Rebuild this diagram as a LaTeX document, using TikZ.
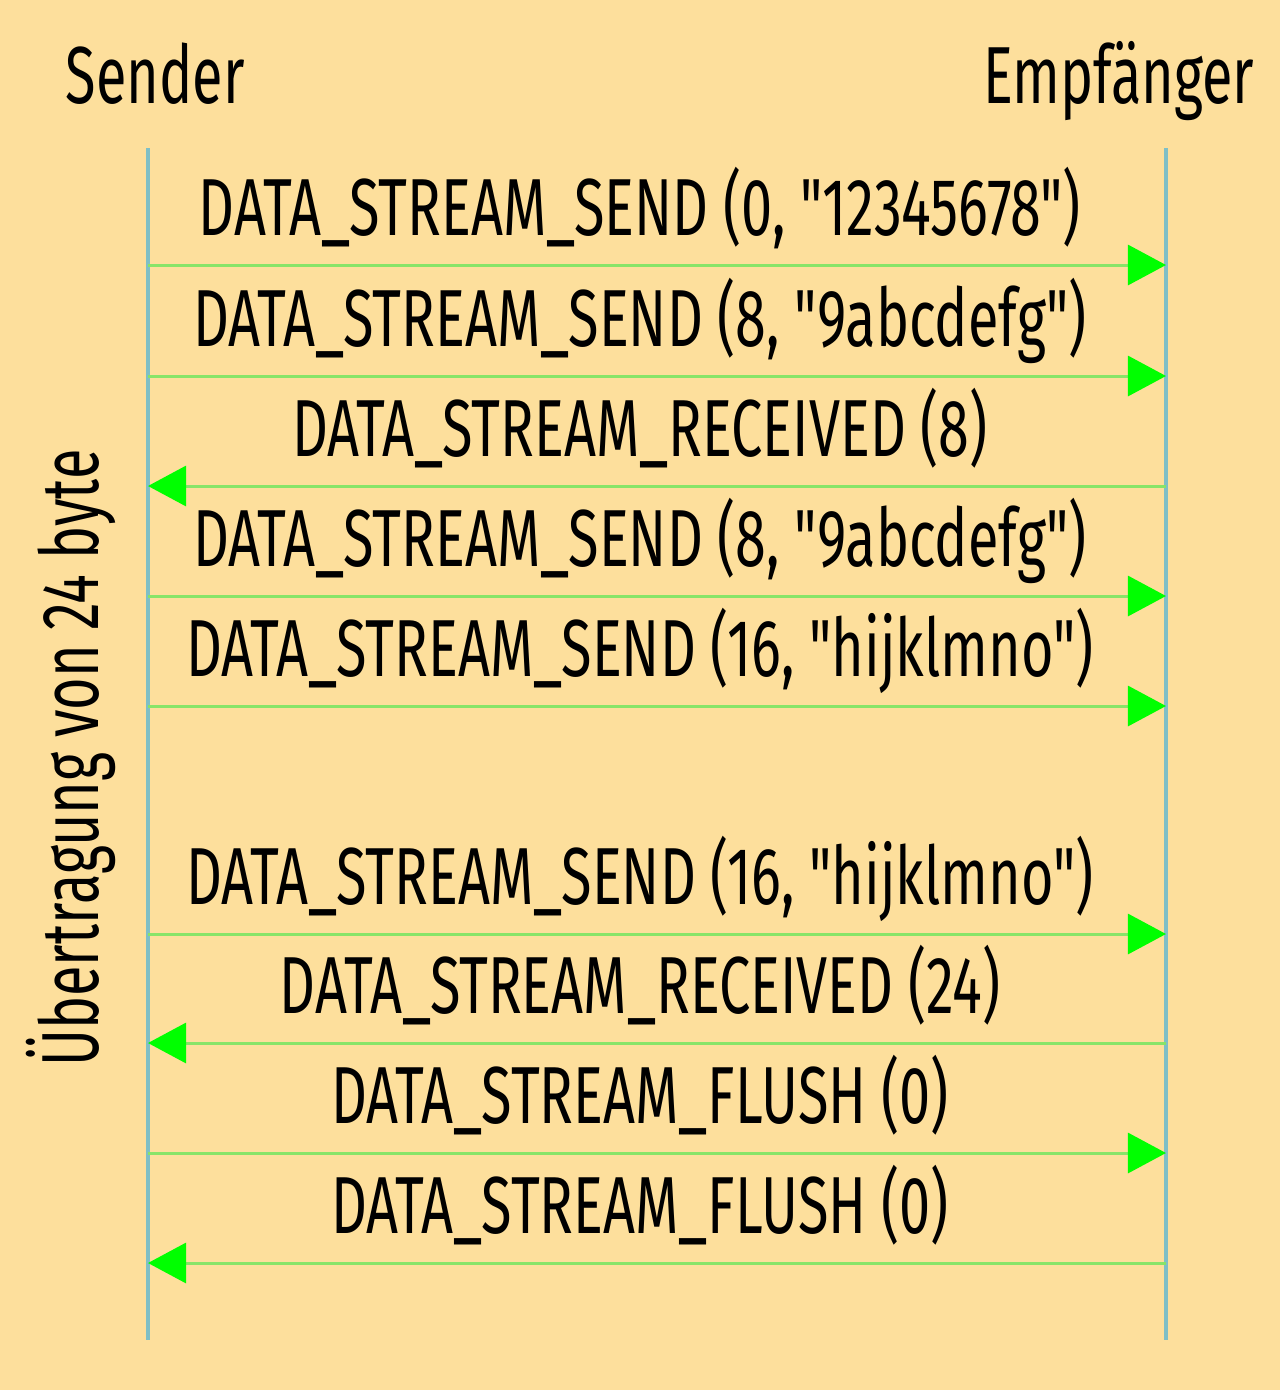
\documentclass[tikz,border=0pt]{standalone}
\usepackage{fontspec}
\newfontfamily\diafont[FakeStretch=0.69]{Fira Sans}
\usetikzlibrary{arrows.meta}
\definecolor{bgorange}{HTML}{FDDF9C}
\definecolor{lifeblue}{HTML}{7FBFC6}
\definecolor{msggreen}{HTML}{88E468}
\definecolor{tipgreen}{HTML}{00FF00}
\tikzset{
  lbl/.style={inner sep=0pt, font=\diafont\fontsize{23}{27}\selectfont},
  lifeline/.style={draw=lifeblue, line width=0.04cm},
  msgright/.style={draw=msggreen, line width=0.03cm, -{Triangle[length=0.38cm, width=0.4cm, color=tipgreen]}},
  msgleft/.style={draw=msggreen, line width=0.03cm, {Triangle[length=0.38cm, width=0.4cm, color=tipgreen]}-}
}
\begin{document}
\begin{tikzpicture}[x=0.01cm, y=-0.01cm]
    \fill[bgorange] (0,0) rectangle (1280,1390);
    \useasboundingbox (0,0) rectangle (1280,1390);
    \node[lbl, anchor=base west] (snd) at (65,103) {Sender};
    \node[lbl, anchor=base east] (rcv) at (1255,103) {Empfänger};
    \node[lbl, anchor=base, rotate=90] (note) at (98,758) {Übertragung von 24 byte};
    \coordinate (stop) at (148,148);
    \coordinate (sbot) at (148,1340);
    \coordinate (etop) at (1166,148);
    \coordinate (ebot) at (1166,1340);
    \draw[lifeline] (stop) -- (sbot);
    \draw[lifeline] (etop) -- (ebot);
    \foreach \i/\y/\st/\txt in {
        1/265/msgright/{DATA\_STREAM\_SEND (0, "12345678")},
        2/376/msgright/{DATA\_STREAM\_SEND (8, "9abcdefg")},
        3/486/msgleft/{DATA\_STREAM\_RECEIVED (8)},
        4/596/msgright/{DATA\_STREAM\_SEND (8, "9abcdefg")},
        5/706/msgright/{DATA\_STREAM\_SEND (16, "hijklmno")},
        6/934/msgright/{DATA\_STREAM\_SEND (16, "hijklmno")},
        7/1043/msgleft/{DATA\_STREAM\_RECEIVED (24)},
        8/1153/msgright/{DATA\_STREAM\_FLUSH (0)},
        9/1263/msgleft/{DATA\_STREAM\_FLUSH (0)}}{
        \coordinate (s\i) at (148,\y);
        \coordinate (e\i) at (1166,\y);
        \node[lbl, anchor=base] (m\i) at (640,\y-30) {\txt};
        \draw[\st] (s\i) -- (e\i);
    }
\end{tikzpicture}
\end{document}
